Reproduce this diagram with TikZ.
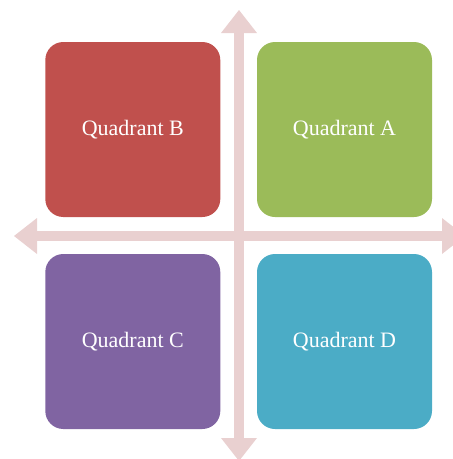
\documentclass[tikz,border=0pt]{standalone}
\usepackage{fontspec}
\setmainfont{Liberation Serif}
\usetikzlibrary{arrows.meta}
\definecolor{quadA}{HTML}{9BBB59}
\definecolor{quadB}{HTML}{C0504D}
\definecolor{quadC}{HTML}{8064A2}
\definecolor{quadD}{HTML}{4BACC6}
\definecolor{axiscol}{HTML}{E9D0D0}
\begin{document}
\begin{tikzpicture}[x=1pt,y=-1pt,
  quad/.style={rounded corners=18pt,minimum width=175pt,minimum height=175pt,
    inner sep=0pt,text=white,font=\fontsize{22}{24}\selectfont},
  axis/.style={draw=axiscol,line width=10pt,
    {Triangle[width=36pt,length=23pt,line width=0pt]}-{Triangle[width=36pt,length=23pt,line width=0pt]}}]
\useasboundingbox (0,0) rectangle (453,459);
\coordinate (top) at (239,10);
\coordinate (bottom) at (239,461);
\coordinate (left) at (14,236);
\coordinate (right) at (465,236);
\draw[axis] (top) -- (bottom);
\draw[axis] (left) -- (right);
\node[quad,fill=quadB] (B) at (132.8,129.5) {Quadrant B};
\node[quad,fill=quadA] (A) at (344.5,129.5) {Quadrant A};
\node[quad,fill=quadC] (C) at (132.8,341.5) {Quadrant C};
\node[quad,fill=quadD] (D) at (344.5,341.5) {Quadrant D};
\end{tikzpicture}
\end{document}
